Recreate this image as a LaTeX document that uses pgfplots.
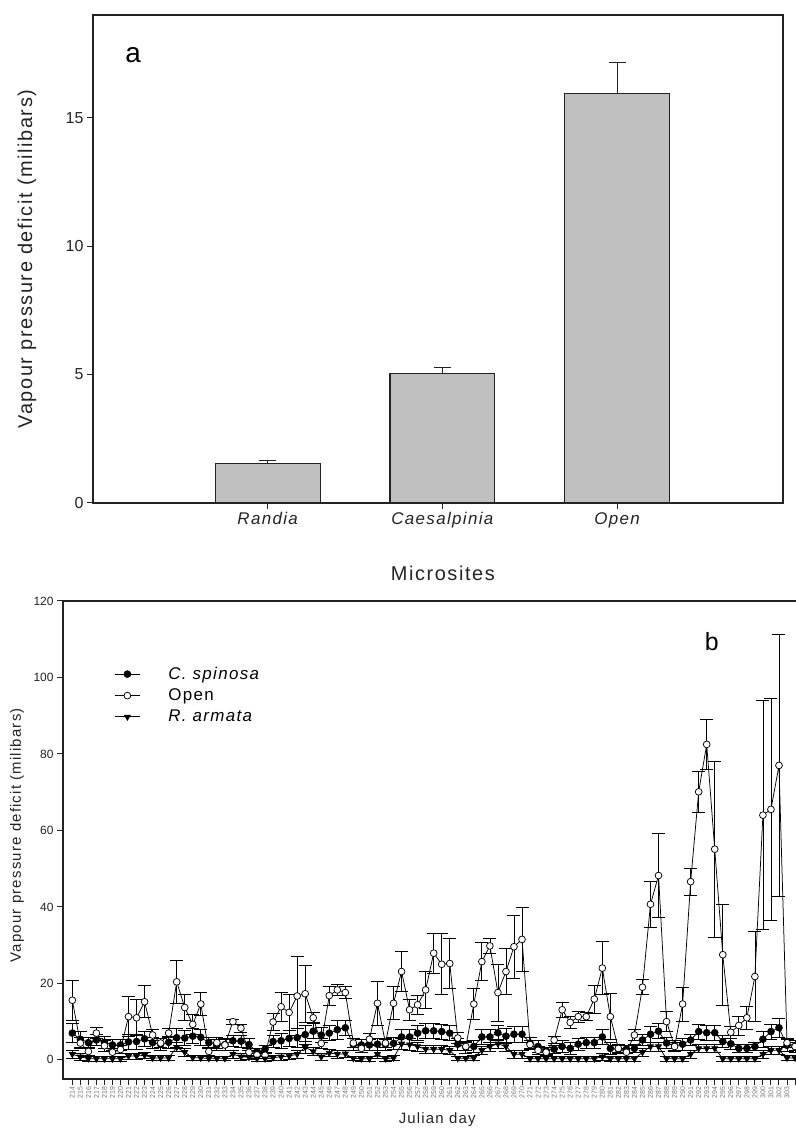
\documentclass[border=0pt]{standalone}
\usepackage{pgfplots}
\pgfplotsset{compat=1.18}
\usepackage{pgfplotstable}
\usepackage{fontspec}
\setmainfont{Liberation Sans}
\newfontfamily\spaced[LetterSpace=8]{Liberation Sans}
\definecolor{barfill}{RGB}{192,192,192}
\definecolor{ink}{RGB}{35,35,35}

% Mean vapour pressure deficit per microsite (mbar), upper SE
\pgfplotstableread{
pos val err
1 1.55 0.12
2 5.05 0.22
3 15.95 1.2
}\microsites

% Daily means and SE, C. spinosa canopy
\pgfplotstableread{
day val err
214 7.0 2.5
215 5.4 2.0
216 4.5 1.5
217 5.2 1.5
218 4.6 1.5
219 3.9 1.5
220 3.9 1.5
221 4.7 2.0
222 4.8 2.0
223 5.5 2.0
224 4.5 1.5
225 4.1 1.5
226 4.6 1.5
227 5.8 2.5
228 5.7 2.0
229 6.2 2.0
230 5.9 2.0
231 4.5 1.5
232 3.9 1.5
233 4.0 1.5
234 5.0 1.5
235 4.9 1.5
236 4.0 1.5
237 2.1 1.0
238 2.8 1.0
239 4.8 1.5
240 5.0 2.0
241 5.6 2.0
242 5.8 2.5
243 6.6 2.5
244 7.5 2.0
245 6.5 2.0
246 7.0 2.0
247 7.9 2.5
248 8.4 2.0
249 4.0 1.5
250 3.9 1.5
251 3.9 1.5
252 4.1 1.5
253 4.1 1.5
254 4.3 1.5
255 6.0 2.0
256 6.0 2.0
257 7.0 2.0
258 7.6 2.0
259 7.6 2.0
260 7.4 2.0
261 7.0 2.0
262 4.1 1.5
263 3.3 1.5
264 3.5 1.5
265 6.0 2.0
266 6.0 2.0
267 7.1 2.0
268 6.2 2.0
269 6.7 2.0
270 6.7 2.0
271 4.4 1.5
272 3.5 1.5
273 2.4 1.0
274 2.8 1.0
275 3.5 1.5
276 3.0 1.5
277 4.1 1.5
278 4.5 1.5
279 4.5 1.5
280 6.0 2.0
281 3.0 1.5
282 2.8 1.0
283 2.8 1.0
284 3.0 1.0
285 5.2 1.5
286 6.7 2.0
287 7.5 2.0
288 4.4 1.5
289 3.7 1.5
290 4.1 1.5
291 5.2 1.5
292 7.4 2.0
293 7.1 2.0
294 7.1 2.0
295 4.8 1.5
296 4.2 1.5
297 3.0 1.0
298 3.0 1.0
299 3.5 1.0
300 5.4 2.0
301 7.4 2.0
302 8.4 2.5
303 3.8 1.5
304 3.5 1.5
}\spinosa

% Daily means and SE, open ground
\pgfplotstableread{
day val err
214 15.6 5.3
215 4.4 1.5
216 2.2 1.0
217 7.0 1.5
218 3.7 1.5
219 2.0 1.0
220 2.7 1.0
221 11.3 5.2
222 11.0 4.7
223 15.2 4.2
224 6.5 1.5
225 4.4 1.2
226 7.0 1.2
227 20.4 5.7
228 13.7 3.4
229 9.3 2.5
230 14.6 3.0
231 2.2 1.0
232 4.5 1.5
233 3.9 1.5
234 10.0 0.7
235 8.3 1.0
236 2.0 1.0
237 1.3 0.8
238 1.2 0.8
239 9.9 2.2
240 13.9 3.8
241 12.4 4.6
242 16.7 10.3
243 17.3 7.4
244 11.0 1.3
245 4.3 1.2
246 16.8 2.5
247 18.3 1.5
248 17.6 1.5
249 4.4 1.2
250 3.0 1.0
251 5.4 1.5
252 14.8 5.7
253 4.4 1.0
254 14.8 4.3
255 23.1 5.2
256 13.1 2.8
257 14.4 2.5
258 18.3 4.8
259 27.9 5.2
260 25.0 8.0
261 25.2 6.6
262 5.7 1.5
263 3.5 1.0
264 14.6 4.1
265 25.7 5.0
266 29.8 2.0
267 17.6 7.5
268 23.1 6.0
269 29.6 8.3
270 31.5 8.4
271 4.0 1.2
272 2.5 1.0
273 2.0 0.8
274 5.2 1.0
275 13.1 2.0
276 9.8 1.5
277 11.3 1.5
278 11.3 1.0
279 15.9 3.7
280 24.0 7.0
281 11.3 6.0
282 3.0 1.0
283 2.0 1.0
284 6.5 1.5
285 19.0 2.0
286 40.7 6.0
287 48.2 11.0
288 10.0 2.6
289 3.5 1.0
290 14.6 4.4
291 46.6 3.5
292 70.1 5.4
293 82.5 6.6
294 55.1 23.0
295 27.5 13.2
296 7.2 1.5
297 9.0 2.5
298 11.0 3.0
299 21.8 11.7
300 64.0 30.0
301 65.5 29.0
302 77.0 34.3
303 4.5 1.2
304 3.5 1.0
}\open

% Daily means and SE, R. armata canopy
\pgfplotstableread{
day val err
214 1.5 1.0
215 0.8 0.8
216 0.3 0.6
217 0.3 0.6
218 0.3 0.6
219 0.3 0.6
220 0.3 0.6
221 1.0 0.8
222 1.0 0.8
223 1.2 0.8
224 0.5 0.6
225 0.5 0.6
226 0.5 0.6
227 3.3 1.2
228 2.0 1.0
229 0.6 0.6
230 0.5 0.6
231 0.4 0.6
232 0.4 0.6
233 0.4 0.6
234 1.5 1.0
235 0.8 0.8
236 0.7 0.6
237 0.3 0.6
238 0.3 0.6
239 0.6 0.6
240 0.8 0.8
241 1.0 0.8
242 1.5 1.0
243 3.3 1.5
244 2.2 1.0
245 0.8 0.8
246 1.8 1.0
247 1.5 1.0
248 1.6 1.0
249 0.4 0.6
250 0.3 0.6
251 0.3 0.6
252 1.5 1.0
253 0.3 0.6
254 0.5 0.6
255 4.2 1.5
256 4.0 1.5
257 3.5 1.2
258 2.8 1.0
259 2.8 1.0
260 2.8 1.0
261 2.5 1.0
262 0.4 0.6
263 0.4 0.6
264 0.5 0.6
265 2.5 1.0
266 3.5 1.2
267 4.2 1.2
268 3.5 1.2
269 1.5 1.0
270 1.5 1.0
271 0.3 0.6
272 0.3 0.6
273 0.3 0.6
274 0.3 0.6
275 0.3 0.6
276 0.3 0.6
277 0.3 0.6
278 0.3 0.6
279 0.3 0.6
280 0.8 0.8
281 0.3 0.6
282 0.3 0.6
283 0.3 0.6
284 0.3 0.6
285 2.0 1.0
286 3.5 1.2
287 3.5 1.2
288 0.3 0.6
289 0.3 0.6
290 0.3 0.6
291 1.5 1.0
292 3.0 1.0
293 3.0 1.0
294 3.0 1.0
295 0.3 0.6
296 0.3 0.6
297 0.3 0.6
298 0.3 0.6
299 0.3 0.6
300 1.5 1.0
301 2.5 1.0
302 2.5 1.0
303 0.5 0.6
304 0.5 0.6
}\armata

\pgfplotsset{
  vpd/.style={
    scale only axis, anchor=south west,
    tick pos=left, tick align=outside,
    axis line style={line width=1.2bp, ink},
    every tick/.style={line width=1bp, ink},
    /pgf/number format/assume math mode=true,
    tick label style={text=ink},
    label style={text=ink},
  },
  series/.style={
    black, line width=0.75bp, mark size=3.4bp,
    error bars/y dir=both,
    error bars/y explicit,
    error bars/error bar style={line width=0.75bp, black},
    error bars/error mark options={rotate=90, mark size=6.5bp, line width=0.75bp, black},
  },
}

\begin{document}
\begin{tikzpicture}
\useasboundingbox (0,0) rectangle (796bp,1132bp);

% (a) Means per microsite
\begin{axis}[
  vpd,
  at={(93bp,629bp)}, width=690bp, height=488bp,
  xmin=0, xmax=3.95, ymin=0, ymax=19,
  xtick={1,2,3}, xticklabels={Randia,Caesalpinia,Open},
  ytick={0,5,10,15},
  major tick length=6bp,
  xticklabel style={font=\spaced\itshape\fontsize{17}{17}\selectfont},
  yticklabel style={font=\fontsize{16}{16}\selectfont},
  xlabel={Microsites},
  ylabel={Vapour pressure deficit (milibars)},
  xlabel style={font=\spaced\fontsize{20}{20}\selectfont, at={(axis description cs:0.507,-0.1434)}, anchor=center},
  ylabel style={font=\spaced\fontsize{20}{20}\selectfont, at={(axis description cs:-0.0957,0.5)}, anchor=center},
]
\addplot[ybar, bar width=0.6, fill=barfill, draw=ink, line width=1.1bp,
  error bars/y dir=plus, error bars/y explicit,
  error bars/error bar style={line width=1bp, ink},
  error bars/error mark options={rotate=90, mark size=8.5bp, line width=1bp, ink}]
  table[x=pos, y=val, y error=err] {\microsites};
\node[font=\fontsize{28}{28}\selectfont, text=black] at (rel axis cs:0.058,0.918) {a};
\end{axis}

% (b) Daily course under each microsite
\begin{axis}[
  vpd,
  at={(63bp,53bp)}, width=744bp, height=478bp,
  xmin=212.84, xmax=305.49, ymin=-5, ymax=120,
  xtick={214,...,303}, ytick={0,20,...,120},
  extra x ticks={304}, extra x tick labels={},
  major tick length=6bp,
  xticklabel style={rotate=90, anchor=east, inner sep=1.5bp, font=\fontsize{7}{7}\selectfont, text=black!55},
  yticklabel style={font=\fontsize{12}{12}\selectfont},
  xlabel={Julian day},
  ylabel={Vapour pressure deficit (milibars)},
  xlabel style={font=\spaced\fontsize{15}{15}\selectfont, at={(axis description cs:0.503,-0.0858)}, anchor=center},
  ylabel style={font=\spaced\fontsize{15}{15}\selectfont, at={(axis description cs:-0.0618,0.51)}, anchor=center},
  legend style={at={(rel axis cs:0.069,0.866)}, anchor=north west, draw=none, fill=none,
    inner sep=0pt, font=\spaced\fontsize{17}{17}\selectfont, row sep=4bp, column sep=26bp},
  legend cell align=left,
  legend image code/.code={\draw[mark repeat=2, mark phase=2, #1] plot coordinates {(0bp,0bp) (12.5bp,0bp) (25bp,0bp)};},
]
\addplot[series, mark=*, mark options={fill=black, draw=black}]
  table[x=day, y=val, y error=err] {\spinosa};
\addlegendentry{\itshape C. spinosa}
\addplot[series, mark=*, mark options={fill=white, draw=black}]
  table[x=day, y=val, y error=err] {\open};
\addlegendentry{Open}
\addplot[series, mark=triangle*, mark options={fill=black, draw=black, rotate=180}]
  table[x=day, y=val, y error=err] {\armata};
\addlegendentry{\itshape R. armata}
\node[font=\fontsize{25}{25}\selectfont, text=black] at (rel axis cs:0.872,0.916) {b};
\end{axis}
\end{tikzpicture}
\end{document}
